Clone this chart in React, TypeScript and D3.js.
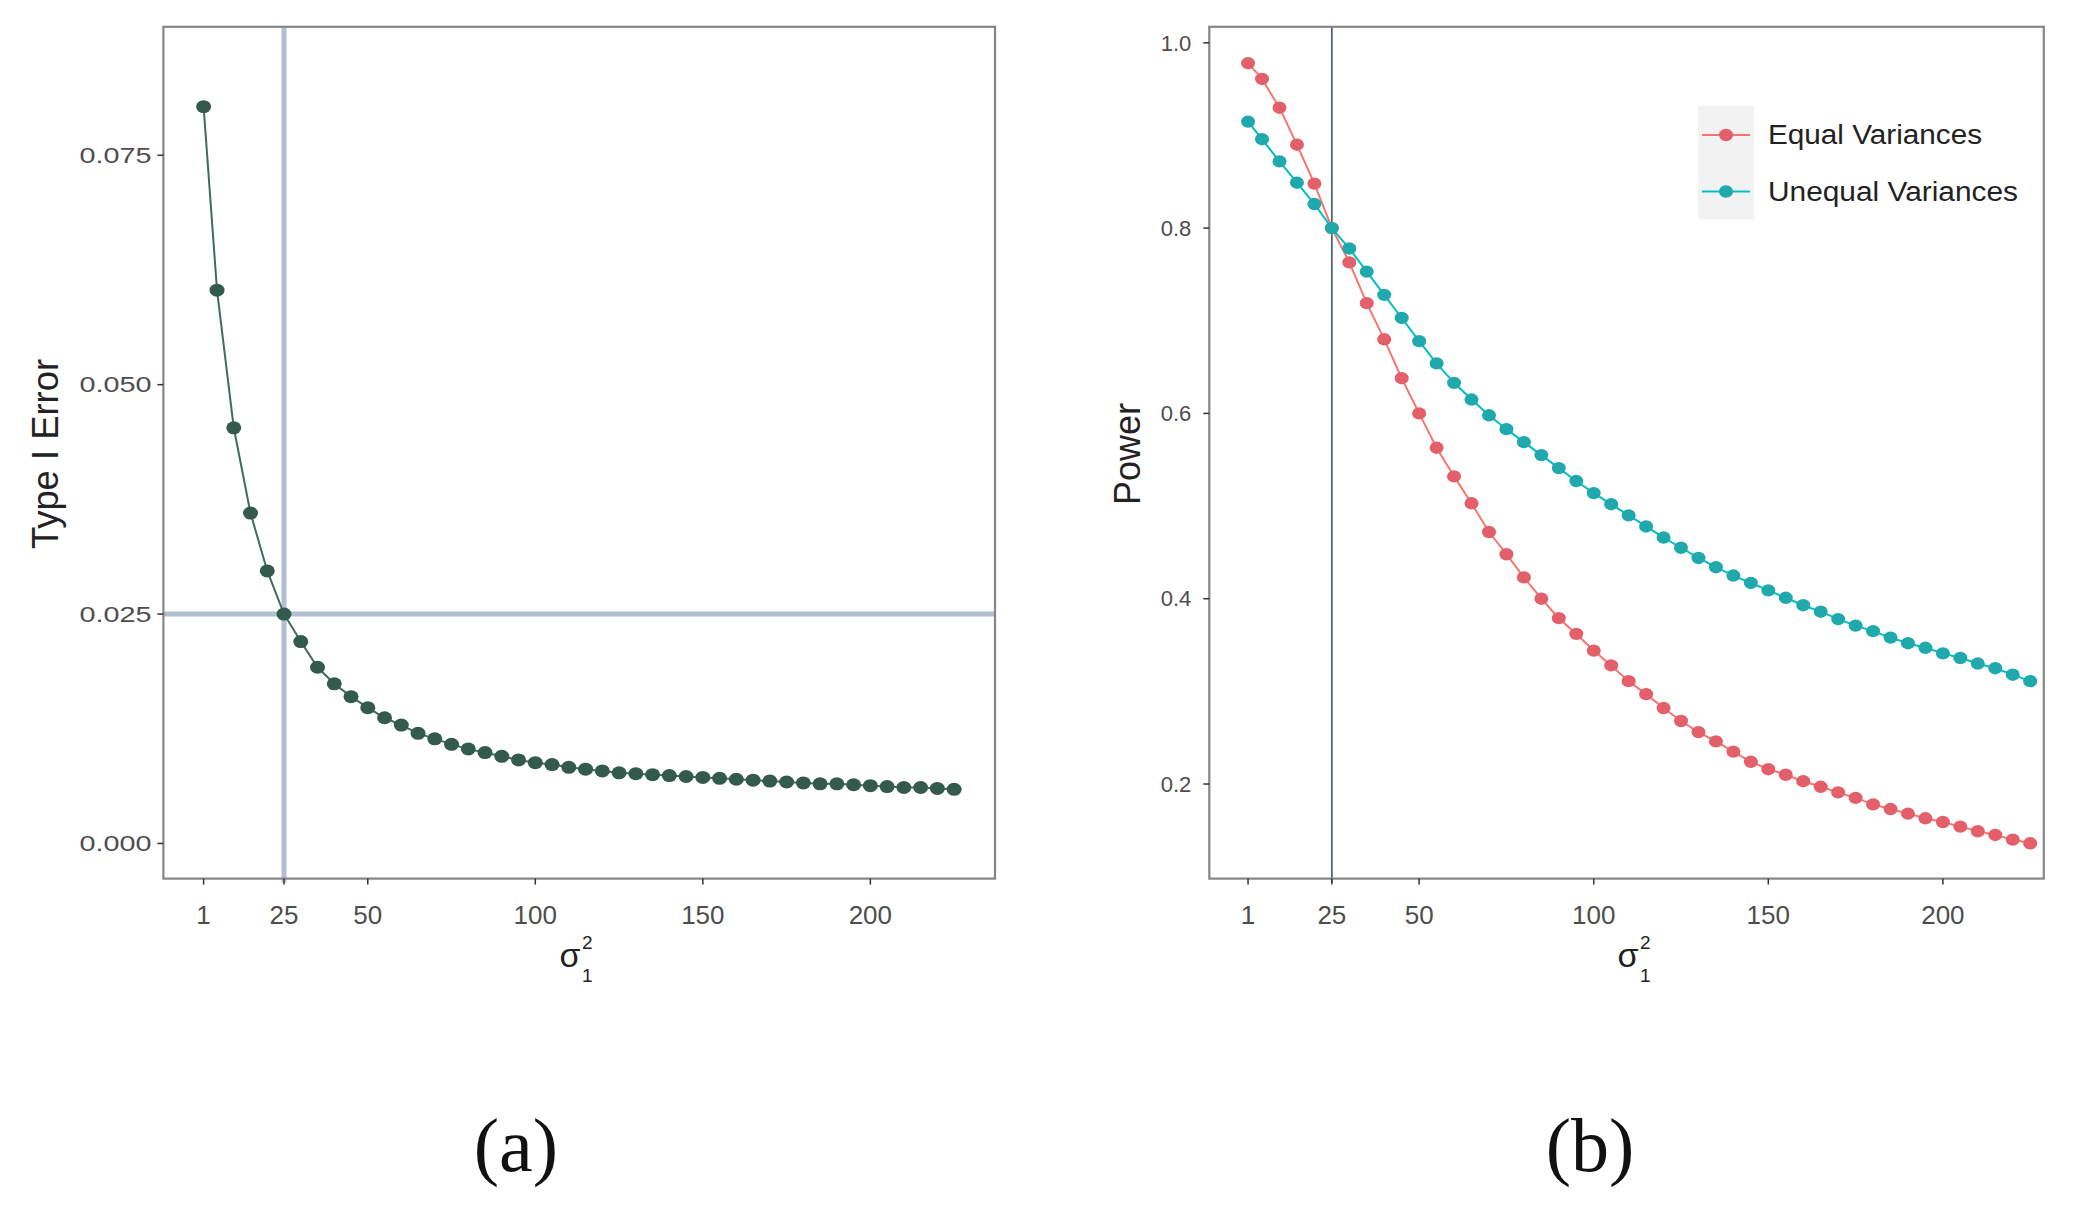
import React from "react";
import * as d3 from "d3";

const sigma2 = [1, 5, 10, 15, 20, 25, 30, 35, 40, 45, 50, 55, 60, 65, 70, 75, 80, 85, 90, 95, 100, 105, 110, 115, 120, 125, 130, 135, 140, 145, 150, 155, 160, 165, 170, 175, 180, 185, 190, 195, 200, 205, 210, 215, 220, 225];

const typeIError = [0.0803, 0.0603, 0.0453, 0.036, 0.0297, 0.025, 0.022, 0.0192, 0.0174, 0.016, 0.0148, 0.0137, 0.0129, 0.012, 0.0114, 0.0108, 0.0103, 0.0099, 0.0095, 0.0091, 0.0088, 0.0086, 0.0083, 0.0081, 0.0079, 0.0077, 0.0076, 0.0075, 0.0074, 0.0073, 0.0072, 0.0071, 0.007, 0.0069, 0.0068, 0.0067, 0.0066, 0.0065, 0.0065, 0.0064, 0.0063, 0.0062, 0.0061, 0.0061, 0.006, 0.0059];

const powerEqual = [0.978, 0.961, 0.93, 0.89, 0.848, 0.8, 0.763, 0.719, 0.68, 0.638, 0.6, 0.563, 0.532, 0.503, 0.472, 0.448, 0.423, 0.4, 0.379, 0.362, 0.344, 0.328, 0.311, 0.297, 0.282, 0.268, 0.256, 0.246, 0.235, 0.224, 0.216, 0.21, 0.203, 0.197, 0.191, 0.185, 0.178, 0.173, 0.168, 0.163, 0.159, 0.154, 0.149, 0.145, 0.14, 0.136];

const powerUnequal = [0.915, 0.896, 0.872, 0.849, 0.826, 0.8, 0.778, 0.753, 0.728, 0.703, 0.678, 0.654, 0.633, 0.615, 0.598, 0.583, 0.569, 0.555, 0.541, 0.527, 0.514, 0.502, 0.49, 0.478, 0.466, 0.455, 0.444, 0.434, 0.425, 0.417, 0.409, 0.401, 0.393, 0.386, 0.378, 0.371, 0.365, 0.358, 0.352, 0.347, 0.341, 0.336, 0.33, 0.325, 0.318, 0.311];

const xTicks = [1, 25, 50, 100, 150, 200];
const yTicksA = [0, 0.025, 0.05, 0.075];
const yTickLabelsA = ["0.000", "0.025", "0.050", "0.075"];
const yTicksB = [0.2, 0.4, 0.6, 0.8, 1.0];
const yTickLabelsB = ["0.2", "0.4", "0.6", "0.8", "1.0"];
const seriesNames = ["Equal Variances", "Unequal Variances"];
const seriesColors = ["#F8766D", "#00BFC4"];
const seriesPointColors = ["#E3606B", "#1FA9AC"];
const refX = 25;
const refY = 0.025;

const SANS = "'Liberation Sans', Arial, sans-serif";
const TICK_COLOR = "#4D4D4D";

function XTitle({ cx }: { cx: number }) {
  return (
    <g fontFamily={SANS} fill="#222">
      <text x={cx - 8} y={967} fontSize={34} textAnchor="middle">σ</text>
      <text x={cx + 4} y={949} fontSize={19}>2</text>
      <text x={cx + 4} y={982} fontSize={19}>1</text>
    </g>
  );
}

function Frame({ x, y, xTitleCx }: { x: any; y: any; xTitleCx: number }) {
  const [x0, x1] = x.range();
  const [y0, y1] = y.range();
  return (
    <g>
      <rect x={x0} y={y1} width={x1 - x0} height={y0 - y1} fill="none" stroke="#858585" strokeWidth={2.2} />
      {xTicks.map((t, i) => (
        <g key={i}>
          <line x1={x(t)} x2={x(t)} y1={y0} y2={y0 + 6} stroke="#333" strokeWidth={1.5} />
          <text x={x(t)} y={y0 + 45} fontSize={26} textAnchor="middle" fill={TICK_COLOR} fontFamily={SANS}>
            {t}
          </text>
        </g>
      ))}
      <XTitle cx={xTitleCx} />
    </g>
  );
}

export default function App() {
  // Panel (a)
  const xa = d3.scaleLinear().domain([-11, 237.2]).range([163.4, 995]);
  const ya = d3.scaleLinear().domain([-0.00383, 0.089]).range([878.6, 26.8]);
  // Panel (b)
  const xb = d3.scaleLinear().domain([-10.1, 228.9]).range([1209.3, 2043.8]);
  const yb = d3.scaleLinear().domain([0.0979, 1.0173]).range([878.6, 26.8]);

  const lineA = d3
    .line<number>()
    .x((_, i) => xa(sigma2[i]))
    .y((d) => ya(d));
  const lineB = d3
    .line<number>()
    .x((_, i) => xb(sigma2[i]))
    .y((d) => yb(d));

  const seriesB = [powerEqual, powerUnequal];

  return (
    <svg
      width={2100}
      height={1218}
      style={{ position: "absolute", left: 0, top: 0, background: "#fff" }}
    >
      <rect x={0} y={0} width={2100} height={1218} fill="#fff" />

      {/* ---------- Panel (a) ---------- */}
      <line x1={xa(refX)} x2={xa(refX)} y1={ya.range()[1]} y2={ya.range()[0] + 4} stroke="#B2BFD1" strokeWidth={5} />
      <line x1={xa.range()[0]} x2={xa.range()[1]} y1={ya(refY)} y2={ya(refY)} stroke="#B2BFD1" strokeWidth={5} />
      <path d={lineA(typeIError) || ""} fill="none" stroke="#3C6E5C" strokeWidth={2} />
      {typeIError.map((v, i) => (
        <ellipse key={i} cx={xa(sigma2[i])} cy={ya(v)} rx={7.5} ry={6.5} fill="#345A4D" />
      ))}
      <Frame x={xa} y={ya} xTitleCx={578} />
      {yTicksA.map((t, i) => (
        <g key={i}>
          <line x1={xa.range()[0] - 6} x2={xa.range()[0]} y1={ya(t)} y2={ya(t)} stroke="#333" strokeWidth={1.5} />
          <text
            x={xa.range()[0] - 12}
            y={ya(t)}
            dy="0.35em"
            fontSize={22}
            textAnchor="end"
            fill={TICK_COLOR}
            fontFamily={SANS}
            textLength={72}
            lengthAdjust="spacingAndGlyphs"
          >
            {yTickLabelsA[i]}
          </text>
        </g>
      ))}
      <text
        transform={`translate(58, 454) rotate(-90)`}
        fontSize={36}
        textAnchor="middle"
        fill="#222"
        fontFamily={SANS}
        textLength={190}
        lengthAdjust="spacingAndGlyphs"
      >
        Type I Error
      </text>

      {/* ---------- Panel (b) ---------- */}
      <line x1={xb(refX)} x2={xb(refX)} y1={yb.range()[1]} y2={yb.range()[0] + 4} stroke="#56657A" strokeWidth={1.8} />
      {seriesB.map((s, k) => (
        <g key={k}>
          <path d={lineB(s) || ""} fill="none" stroke={seriesColors[k]} strokeWidth={2} />
          {s.map((v, i) => (
            <ellipse key={i} cx={xb(sigma2[i])} cy={yb(v)} rx={7} ry={6.2} fill={seriesPointColors[k]} />
          ))}
        </g>
      ))}
      <Frame x={xb} y={yb} xTitleCx={1636} />
      {yTicksB.map((t, i) => (
        <g key={i}>
          <line x1={xb.range()[0] - 6} x2={xb.range()[0]} y1={yb(t)} y2={yb(t)} stroke="#333" strokeWidth={1.5} />
          <text
            x={xb.range()[0] - 18}
            y={yb(t)}
            dy="0.35em"
            fontSize={22}
            textAnchor="end"
            fill={TICK_COLOR}
            fontFamily={SANS}
          >
            {yTickLabelsB[i]}
          </text>
        </g>
      ))}
      <text
        transform={`translate(1140, 454) rotate(-90)`}
        fontSize={36}
        textAnchor="middle"
        fill="#222"
        fontFamily={SANS}
      >
        Power
      </text>

      {/* Legend */}
      {seriesNames.map((n, k) => {
        const cy = 135 + k * 56.5;
        return (
          <g key={k}>
            <rect x={1698} y={cy - 29} width={56} height={57} fill="#F2F2F2" />
            <line x1={1702} x2={1750} y1={cy} y2={cy} stroke={seriesColors[k]} strokeWidth={2} />
            <ellipse cx={1726} cy={cy} rx={7} ry={6.2} fill={seriesPointColors[k]} />
            <text
              x={1768}
              y={cy}
              dy="0.35em"
              fontSize={27}
              fill="#222"
              fontFamily={SANS}
              textLength={k === 0 ? 214 : 250}
              lengthAdjust="spacingAndGlyphs"
            >
              {n}
            </text>
          </g>
        );
      })}

      {/* Captions */}
      <text x={516} y={1171} fontSize={76} textAnchor="middle" fontFamily="'Liberation Serif', 'DejaVu Serif', serif" fill="#111">
        (a)
      </text>
      <text x={1590} y={1171} fontSize={76} textAnchor="middle" fontFamily="'Liberation Serif', 'DejaVu Serif', serif" fill="#111">
        (b)
      </text>
    </svg>
  );
}
